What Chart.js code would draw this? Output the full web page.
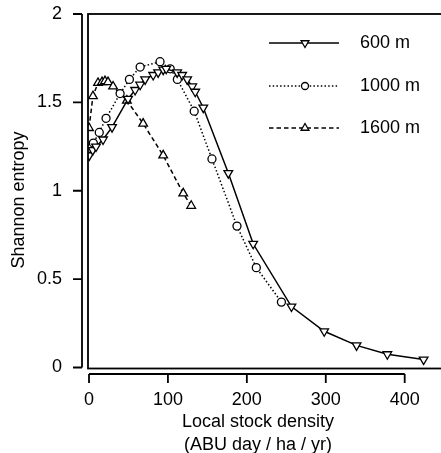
<!DOCTYPE html>
<html><head><meta charset="utf-8">
<script src="https://cdn.jsdelivr.net/npm/chart.js@4/dist/chart.umd.min.js"></script>
<style>html,body{margin:0;padding:0;background:#fff}canvas{display:block}</style>
</head><body>
<canvas id="c" width="441" height="453"></canvas>
<script>
// ---- data ----
const seriesNames = ['600 m', '1000 m', '1600 m'];
const x600 = [0.4, 4.7, 8.9, 17.8, 29.2, 49.5, 58.4, 64.8, 71.1, 81.3, 87.6, 94, 97.8, 111.7, 118, 124.4, 130.8, 134.6, 144.8, 176.5, 208, 256.5, 298, 339, 378, 424];
const y600 = [1.20, 1.23, 1.25, 1.29, 1.36, 1.52, 1.57, 1.60, 1.63, 1.655, 1.67, 1.685, 1.69, 1.67, 1.655, 1.63, 1.59, 1.56, 1.47, 1.10, 0.70, 0.345, 0.205, 0.125, 0.075, 0.045];
const x1000 = [1.3, 5.5, 13, 21.6, 39.4, 51.2, 64.8, 90, 102.9, 112, 133.3, 155.8, 187.5, 212, 243.8];
const y1000 = [1.24, 1.27, 1.33, 1.41, 1.55, 1.63, 1.70, 1.73, 1.69, 1.63, 1.45, 1.18, 0.80, 0.565, 0.37];
const x1600 = [0, 5, 11.4, 16.5, 20.3, 24.1, 30.5, 48, 68.6, 94, 119.4, 129.5];
const y1600 = [1.355, 1.535, 1.61, 1.615, 1.62, 1.615, 1.59, 1.51, 1.38, 1.20, 0.985, 0.915];
const xTicks = [0, 100, 200, 300, 400];
const xTickLabels = ['0', '100', '200', '300', '400'];
const yTicks = [0, 0.5, 1, 1.5, 2];
const yTickLabels = ['0', '0.5', '1', '1.5', '2'];
const xTitle = ['Local stock density', '(ABU day / ha / yr)'];
const yTitle = 'Shannon entropy';

// ---- styles ----
const FONT = '"Liberation Sans", Arial, Helvetica, sans-serif';
const FS = 18;
const styles = [
  {dash: [], shape: 'triangle', rot: 180, r: 5},
  {dash: [1.5, 2.2], shape: 'circle', rot: 0, r: 4},
  {dash: [4.5, 3], shape: 'triangle', rot: 0, r: 5}
];
const xs = [x600, x1000, x1600];
const ys = [y600, y1000, y1600];

const datasets = seriesNames.map((name, i) => ({
  label: name,
  data: xs[i].map((x, j) => ({x: x, y: ys[i][j]})),
  borderColor: '#000',
  borderWidth: 1.5,
  borderDash: styles[i].dash,
  pointStyle: styles[i].shape,
  rotation: styles[i].rot,
  pointRadius: styles[i].r,
  pointBorderWidth: 1.3,
  pointBackgroundColor: '#fff',
  pointBorderColor: '#000',
  fill: false,
  tension: 0
}));

function drawMarker(ctx, shape, rot, r, x, y) {
  ctx.save();
  ctx.setLineDash([]);
  ctx.lineWidth = 1.3;
  ctx.strokeStyle = '#000';
  ctx.fillStyle = '#fff';
  ctx.beginPath();
  if (shape === 'circle') {
    ctx.arc(x, y, r, 0, Math.PI * 2);
  } else {
    let a = rot * Math.PI / 180;
    for (let k = 0; k < 3; k++) {
      const px = x + Math.sin(a) * r, py = y - Math.cos(a) * r;
      if (k === 0) ctx.moveTo(px, py); else ctx.lineTo(px, py);
      a += 2 * Math.PI / 3;
    }
    ctx.closePath();
  }
  ctx.fill();
  ctx.stroke();
  ctx.restore();
}

const framePlugin = {
  id: 'frame',
  afterDatasetsDraw(chart) {
    const ctx = chart.ctx, a = chart.chartArea;
    const sx = chart.scales.x, sy = chart.scales.y;
    ctx.save();
    ctx.strokeStyle = '#000';
    ctx.lineWidth = 1.8;
    ctx.setLineDash([]);
    // box
    ctx.strokeRect(a.left, a.top, a.right + 10 - a.left, a.bottom - a.top);
    // y axis
    const ax = a.left - 6;
    ctx.beginPath();
    ctx.moveTo(ax, sy.getPixelForValue(yTicks[0]));
    ctx.lineTo(ax, sy.getPixelForValue(yTicks[yTicks.length - 1]));
    yTicks.forEach(v => {
      const p = sy.getPixelForValue(v);
      ctx.moveTo(ax, p); ctx.lineTo(ax - 9, p);
    });
    // x axis
    const ay = a.bottom + 5.5;
    ctx.moveTo(sx.getPixelForValue(xTicks[0]), ay);
    ctx.lineTo(sx.getPixelForValue(xTicks[xTicks.length - 1]), ay);
    xTicks.forEach(v => {
      const p = sx.getPixelForValue(v);
      ctx.moveTo(p, ay); ctx.lineTo(p, ay + 9);
    });
    ctx.stroke();
    ctx.restore();
  },
  afterDraw(chart) {
    const ctx = chart.ctx;
    ctx.save();
    ctx.fillStyle = '#000';
    ctx.font = FS + 'px ' + FONT;
    ctx.textAlign = 'center';
    ctx.textBaseline = 'middle';
    ctx.fillText(xTitle[0], 258, 422);
    ctx.fillText(xTitle[1], 258, 445);
    ctx.save();
    ctx.translate(19, 200);
    ctx.rotate(-Math.PI / 2);
    ctx.fillText(yTitle, 0, 0);
    ctx.restore();
    // legend
    const ly = [43, 86, 128];
    seriesNames.forEach((name, i) => {
      ctx.save();
      ctx.strokeStyle = '#000';
      ctx.lineWidth = 1.5;
      ctx.setLineDash(styles[i].dash);
      ctx.beginPath();
      ctx.moveTo(269, ly[i]); ctx.lineTo(339, ly[i]);
      ctx.stroke();
      ctx.restore();
      drawMarker(ctx, styles[i].shape, styles[i].rot, styles[i].r - 0.5, 305, ly[i]);
      ctx.textAlign = 'left';
      ctx.fillText(name, 360, ly[i]);
    });
    ctx.restore();
  }
};

new Chart(document.getElementById('c'), {
  type: 'line',
  data: {datasets: datasets},
  plugins: [framePlugin],
  options: {
    responsive: false,
    animation: false,
    devicePixelRatio: 1,
    layout: {autoPadding: false, padding: {top: 14, right: 0, left: 0, bottom: 0}},
    plugins: {legend: {display: false}, tooltip: {enabled: false}},
    elements: {line: {borderJoinStyle: 'miter'}},
    scales: {
      x: {
        type: 'linear', min: -1.27, max: 446,
        grid: {display: false}, border: {display: false},
        afterBuildTicks: s => { s.ticks = xTicks.map(v => ({value: v})); },
        afterFit: s => { s.height = 84.5; s.paddingLeft = 0; s.paddingRight = 0; s.paddingTop = 0; s.paddingBottom = 0; },
        ticks: {
          color: '#000', font: {family: FONT, size: FS}, padding: 13,
          maxRotation: 0, autoSkip: false,
          callback: v => xTickLabels[xTicks.indexOf(v)]
        }
      },
      y: {
        type: 'linear', min: -0.0056, max: 2,
        grid: {display: false}, border: {display: false},
        afterBuildTicks: s => { s.ticks = yTicks.map(v => ({value: v})); },
        afterFit: s => { s.width = 88; s.paddingLeft = 0; s.paddingRight = 0; s.paddingTop = 0; s.paddingBottom = 0; },
        ticks: {
          color: '#000', font: {family: FONT, size: FS}, padding: 18,
          autoSkip: false,
          callback: v => yTickLabels[yTicks.indexOf(v)]
        }
      }
    }
  }
});
</script>
</body></html>
